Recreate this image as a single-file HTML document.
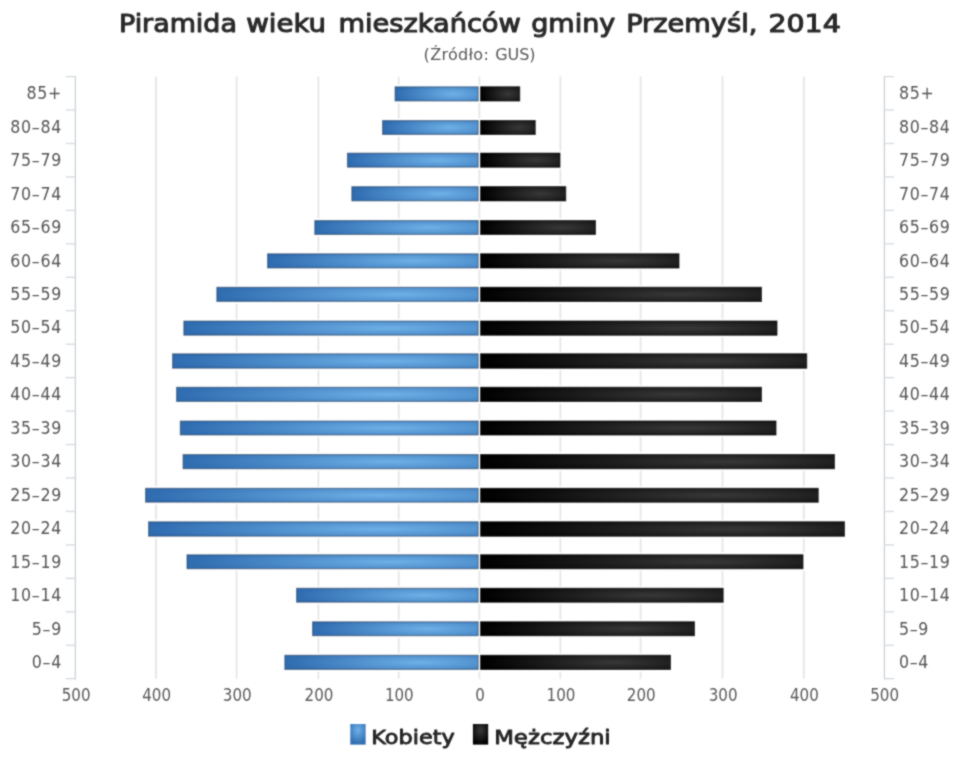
<!DOCTYPE html>
<html lang="pl">
<head>
<meta charset="utf-8">
<title>Piramida wieku mieszkańców gminy Przemyśl, 2014</title>
<style>
html,body{margin:0;padding:0;background:#fff;}
body{width:960px;height:768px;overflow:hidden;}
svg{display:block;}
.t{font-family:"DejaVu Sans","Liberation Sans",sans-serif;}
.l{font-family:"Liberation Sans","DejaVu Sans",sans-serif;}
.c{font-family:"DejaVu Sans Condensed","DejaVu Sans","Liberation Sans",sans-serif;}
</style>
</head>
<body>
<svg width="960" height="768" viewBox="0 0 960 768">
<defs>
<radialGradient id="gb" cx="0.7" cy="0.5" r="0.7" gradientTransform="translate(0 0.5) scale(1 1.5) translate(0 -0.5)">
<stop offset="0" stop-color="#6eb0e7"/>
<stop offset="1" stop-color="#2f6cb0"/>
</radialGradient>
<radialGradient id="gk" cx="0.7" cy="0.5" r="0.7" gradientTransform="translate(0 0.5) scale(1 1.5) translate(0 -0.5)">
<stop offset="0" stop-color="#383838"/>
<stop offset="1" stop-color="#000000"/>
</radialGradient>
<radialGradient id="lb" cx="0.5" cy="0.3" r="0.7"><stop offset="0" stop-color="#6eb0e7"/><stop offset="1" stop-color="#2f6cb0"/></radialGradient>
<radialGradient id="lk" cx="0.5" cy="0.3" r="0.7"><stop offset="0" stop-color="#383838"/><stop offset="1" stop-color="#000000"/></radialGradient>
<filter id="soft" x="0" y="0" width="960" height="768" filterUnits="userSpaceOnUse" color-interpolation-filters="sRGB"><feConvolveMatrix order="3" kernelMatrix="1 2 1 2 9 2 1 2 1" divisor="21" edgeMode="duplicate" preserveAlpha="false"/></filter>
</defs>
<rect x="0" y="0" width="960" height="768" fill="#ffffff"/>
<g filter="url(#soft)">

<g stroke="#e6e6e6" stroke-width="1.8" fill="none">
<path d="M156.00 76.60V678.70"/>
<path d="M236.60 76.60V678.70"/>
<path d="M318.40 76.60V678.70"/>
<path d="M398.70 76.60V678.70"/>
<path d="M479.40 76.60V678.70"/>
<path d="M560.40 76.60V678.70"/>
<path d="M640.60 76.60V678.70"/>
<path d="M722.50 76.60V678.70"/>
<path d="M803.80 76.60V678.70"/>
</g>
<g stroke="#c4ccd4" stroke-width="1.15" fill="none">
<path d="M75.30 75.90V679.40"/>
<path d="M884.40 75.90V679.40"/>
</g>
<g stroke="#d4dade" stroke-width="1.3" fill="none">
<path d="M65.70 76.60H75.30"/>
<path d="M884.40 76.60H894.00"/>
<path d="M65.70 110.05H75.30"/>
<path d="M884.40 110.05H894.00"/>
<path d="M65.70 143.50H75.30"/>
<path d="M884.40 143.50H894.00"/>
<path d="M65.70 176.95H75.30"/>
<path d="M884.40 176.95H894.00"/>
<path d="M65.70 210.40H75.30"/>
<path d="M884.40 210.40H894.00"/>
<path d="M65.70 243.85H75.30"/>
<path d="M884.40 243.85H894.00"/>
<path d="M65.70 277.30H75.30"/>
<path d="M884.40 277.30H894.00"/>
<path d="M65.70 310.75H75.30"/>
<path d="M884.40 310.75H894.00"/>
<path d="M65.70 344.20H75.30"/>
<path d="M884.40 344.20H894.00"/>
<path d="M65.70 377.65H75.30"/>
<path d="M884.40 377.65H894.00"/>
<path d="M65.70 411.10H75.30"/>
<path d="M884.40 411.10H894.00"/>
<path d="M65.70 444.55H75.30"/>
<path d="M884.40 444.55H894.00"/>
<path d="M65.70 478.00H75.30"/>
<path d="M884.40 478.00H894.00"/>
<path d="M65.70 511.45H75.30"/>
<path d="M884.40 511.45H894.00"/>
<path d="M65.70 544.90H75.30"/>
<path d="M884.40 544.90H894.00"/>
<path d="M65.70 578.35H75.30"/>
<path d="M884.40 578.35H894.00"/>
<path d="M65.70 611.80H75.30"/>
<path d="M884.40 611.80H894.00"/>
<path d="M65.70 645.25H75.30"/>
<path d="M884.40 645.25H894.00"/>
<path d="M65.70 678.70H75.30"/>
<path d="M884.40 678.70H894.00"/>
</g>
<g fill="#ffffff">
<rect x="392.90" y="84.65" width="128.95" height="18.45"/>
<rect x="380.40" y="118.40" width="156.95" height="18.20"/>
<rect x="345.30" y="151.00" width="216.80" height="18.35"/>
<rect x="349.65" y="184.50" width="218.20" height="18.50"/>
<rect x="312.60" y="218.40" width="285.00" height="18.20"/>
<rect x="265.40" y="251.65" width="415.70" height="18.45"/>
<rect x="214.65" y="285.15" width="548.95" height="18.45"/>
<rect x="181.65" y="318.90" width="597.45" height="18.45"/>
<rect x="170.40" y="351.65" width="638.45" height="18.70"/>
<rect x="174.40" y="385.15" width="589.20" height="18.45"/>
<rect x="178.15" y="418.90" width="599.95" height="18.20"/>
<rect x="180.90" y="452.40" width="655.70" height="18.45"/>
<rect x="143.40" y="486.20" width="676.95" height="18.15"/>
<rect x="146.40" y="519.65" width="700.20" height="18.70"/>
<rect x="184.80" y="552.65" width="620.30" height="18.20"/>
<rect x="294.40" y="586.15" width="430.90" height="18.20"/>
<rect x="310.40" y="619.65" width="386.20" height="18.20"/>
<rect x="282.65" y="653.15" width="389.95" height="18.45"/>
</g>
<g fill="url(#gb)" stroke="#1c324e" stroke-opacity="0.5" stroke-width="1.2">
<rect x="395.10" y="86.85" width="83.10" height="14.05"/>
<rect x="382.60" y="120.60" width="95.60" height="13.80"/>
<rect x="347.50" y="153.20" width="130.70" height="13.95"/>
<rect x="351.85" y="186.70" width="126.35" height="14.10"/>
<rect x="314.80" y="220.60" width="163.40" height="13.80"/>
<rect x="267.60" y="253.85" width="210.60" height="14.05"/>
<rect x="216.85" y="287.35" width="261.35" height="14.05"/>
<rect x="183.85" y="321.10" width="294.35" height="14.05"/>
<rect x="172.60" y="353.85" width="305.60" height="14.30"/>
<rect x="176.60" y="387.35" width="301.60" height="14.05"/>
<rect x="180.35" y="421.10" width="297.85" height="13.80"/>
<rect x="183.10" y="454.60" width="295.10" height="14.05"/>
<rect x="145.60" y="488.40" width="332.60" height="13.75"/>
<rect x="148.60" y="521.85" width="329.60" height="14.30"/>
<rect x="187.00" y="554.85" width="291.20" height="13.80"/>
<rect x="296.60" y="588.35" width="181.60" height="13.80"/>
<rect x="312.60" y="621.85" width="165.60" height="13.80"/>
<rect x="284.85" y="655.35" width="193.35" height="14.05"/>
</g>
<g fill="url(#gk)" stroke="#000000" stroke-opacity="0.6" stroke-width="0.9">
<rect x="480.45" y="86.70" width="39.35" height="14.35"/>
<rect x="480.45" y="120.45" width="54.85" height="14.10"/>
<rect x="480.45" y="153.05" width="79.60" height="14.25"/>
<rect x="480.45" y="186.55" width="85.35" height="14.40"/>
<rect x="480.45" y="220.45" width="115.10" height="14.10"/>
<rect x="480.45" y="253.70" width="198.60" height="14.35"/>
<rect x="480.45" y="287.20" width="281.10" height="14.35"/>
<rect x="480.45" y="320.95" width="296.60" height="14.35"/>
<rect x="480.45" y="353.70" width="326.35" height="14.60"/>
<rect x="480.45" y="387.20" width="281.10" height="14.35"/>
<rect x="480.45" y="420.95" width="295.60" height="14.10"/>
<rect x="480.45" y="454.45" width="354.10" height="14.35"/>
<rect x="480.45" y="488.25" width="337.85" height="14.05"/>
<rect x="480.45" y="521.70" width="364.10" height="14.60"/>
<rect x="480.45" y="554.70" width="322.60" height="14.10"/>
<rect x="480.45" y="588.20" width="242.80" height="14.10"/>
<rect x="480.45" y="621.70" width="214.10" height="14.10"/>
<rect x="480.45" y="655.20" width="190.10" height="14.35"/>
</g>
<g class="c" font-size="17.6" fill="#565656" letter-spacing="0.7">
<text x="62.0" y="99.30" text-anchor="end">85+</text>
<text x="898.9" y="99.30" text-anchor="start">85+</text>
<text x="62.0" y="132.75" text-anchor="end">80–84</text>
<text x="898.9" y="132.75" text-anchor="start">80–84</text>
<text x="62.0" y="166.20" text-anchor="end">75–79</text>
<text x="898.9" y="166.20" text-anchor="start">75–79</text>
<text x="62.0" y="199.65" text-anchor="end">70–74</text>
<text x="898.9" y="199.65" text-anchor="start">70–74</text>
<text x="62.0" y="233.10" text-anchor="end">65–69</text>
<text x="898.9" y="233.10" text-anchor="start">65–69</text>
<text x="62.0" y="266.55" text-anchor="end">60–64</text>
<text x="898.9" y="266.55" text-anchor="start">60–64</text>
<text x="62.0" y="300.00" text-anchor="end">55–59</text>
<text x="898.9" y="300.00" text-anchor="start">55–59</text>
<text x="62.0" y="333.45" text-anchor="end">50–54</text>
<text x="898.9" y="333.45" text-anchor="start">50–54</text>
<text x="62.0" y="366.90" text-anchor="end">45–49</text>
<text x="898.9" y="366.90" text-anchor="start">45–49</text>
<text x="62.0" y="400.35" text-anchor="end">40–44</text>
<text x="898.9" y="400.35" text-anchor="start">40–44</text>
<text x="62.0" y="433.80" text-anchor="end">35–39</text>
<text x="898.9" y="433.80" text-anchor="start">35–39</text>
<text x="62.0" y="467.25" text-anchor="end">30–34</text>
<text x="898.9" y="467.25" text-anchor="start">30–34</text>
<text x="62.0" y="500.70" text-anchor="end">25–29</text>
<text x="898.9" y="500.70" text-anchor="start">25–29</text>
<text x="62.0" y="534.15" text-anchor="end">20–24</text>
<text x="898.9" y="534.15" text-anchor="start">20–24</text>
<text x="62.0" y="567.60" text-anchor="end">15–19</text>
<text x="898.9" y="567.60" text-anchor="start">15–19</text>
<text x="62.0" y="601.05" text-anchor="end">10–14</text>
<text x="898.9" y="601.05" text-anchor="start">10–14</text>
<text x="62.0" y="634.50" text-anchor="end">5–9</text>
<text x="898.9" y="634.50" text-anchor="start">5–9</text>
<text x="62.0" y="667.95" text-anchor="end">0–4</text>
<text x="898.9" y="667.95" text-anchor="start">0–4</text>
</g>
<g class="c" font-size="16.8" fill="#5a5a5a" text-anchor="middle">
<text x="76.10" y="701.4">500</text>
<text x="156.60" y="701.4">400</text>
<text x="237.20" y="701.4">300</text>
<text x="319.00" y="701.4">200</text>
<text x="399.30" y="701.4">100</text>
<text x="480.00" y="701.4">0</text>
<text x="561.00" y="701.4">100</text>
<text x="641.20" y="701.4">200</text>
<text x="723.10" y="701.4">300</text>
<text x="804.40" y="701.4">400</text>
<text x="884.60" y="701.4">500</text>
</g>
<text class="t" y="32.2" font-size="24.7" fill="#2a2a2a" stroke="#2a2a2a" stroke-width="1.05" stroke-linejoin="round"><tspan x="119.00" textLength="117.90" lengthAdjust="spacingAndGlyphs">Piramida</tspan> <tspan x="246.20" textLength="79.90" lengthAdjust="spacingAndGlyphs">wieku</tspan> <tspan x="338.40" textLength="182.40" lengthAdjust="spacingAndGlyphs">mieszkańców</tspan> <tspan x="531.20" textLength="84.10" lengthAdjust="spacingAndGlyphs">gminy</tspan> <tspan x="626.20" textLength="131.20" lengthAdjust="spacingAndGlyphs">Przemyśl,</tspan> <tspan x="768.40" textLength="72.40" lengthAdjust="spacingAndGlyphs">2014</tspan></text>
<text class="t" y="60.1" font-size="16" fill="#585858"><tspan x="423.6" textLength="65.2">(Źródło:</tspan> <tspan x="495.2" textLength="40.3">GUS)</tspan></text>
<rect x="350.3" y="724" width="15.3" height="20.6" fill="url(#lb)"/>
<text class="t" x="371.2" y="743.6" font-size="20.3" fill="#262626" stroke="#262626" stroke-width="0.9" stroke-linejoin="round" textLength="83.5" lengthAdjust="spacingAndGlyphs">Kobiety</text>
<rect x="472.9" y="724" width="15.3" height="20.6" fill="url(#lk)"/>
<text class="t" x="494.2" y="743.6" font-size="20.3" fill="#262626" stroke="#262626" stroke-width="0.9" stroke-linejoin="round" textLength="116.5" lengthAdjust="spacingAndGlyphs">Mężczyźni</text>
</g>
</svg>
</body>
</html>
